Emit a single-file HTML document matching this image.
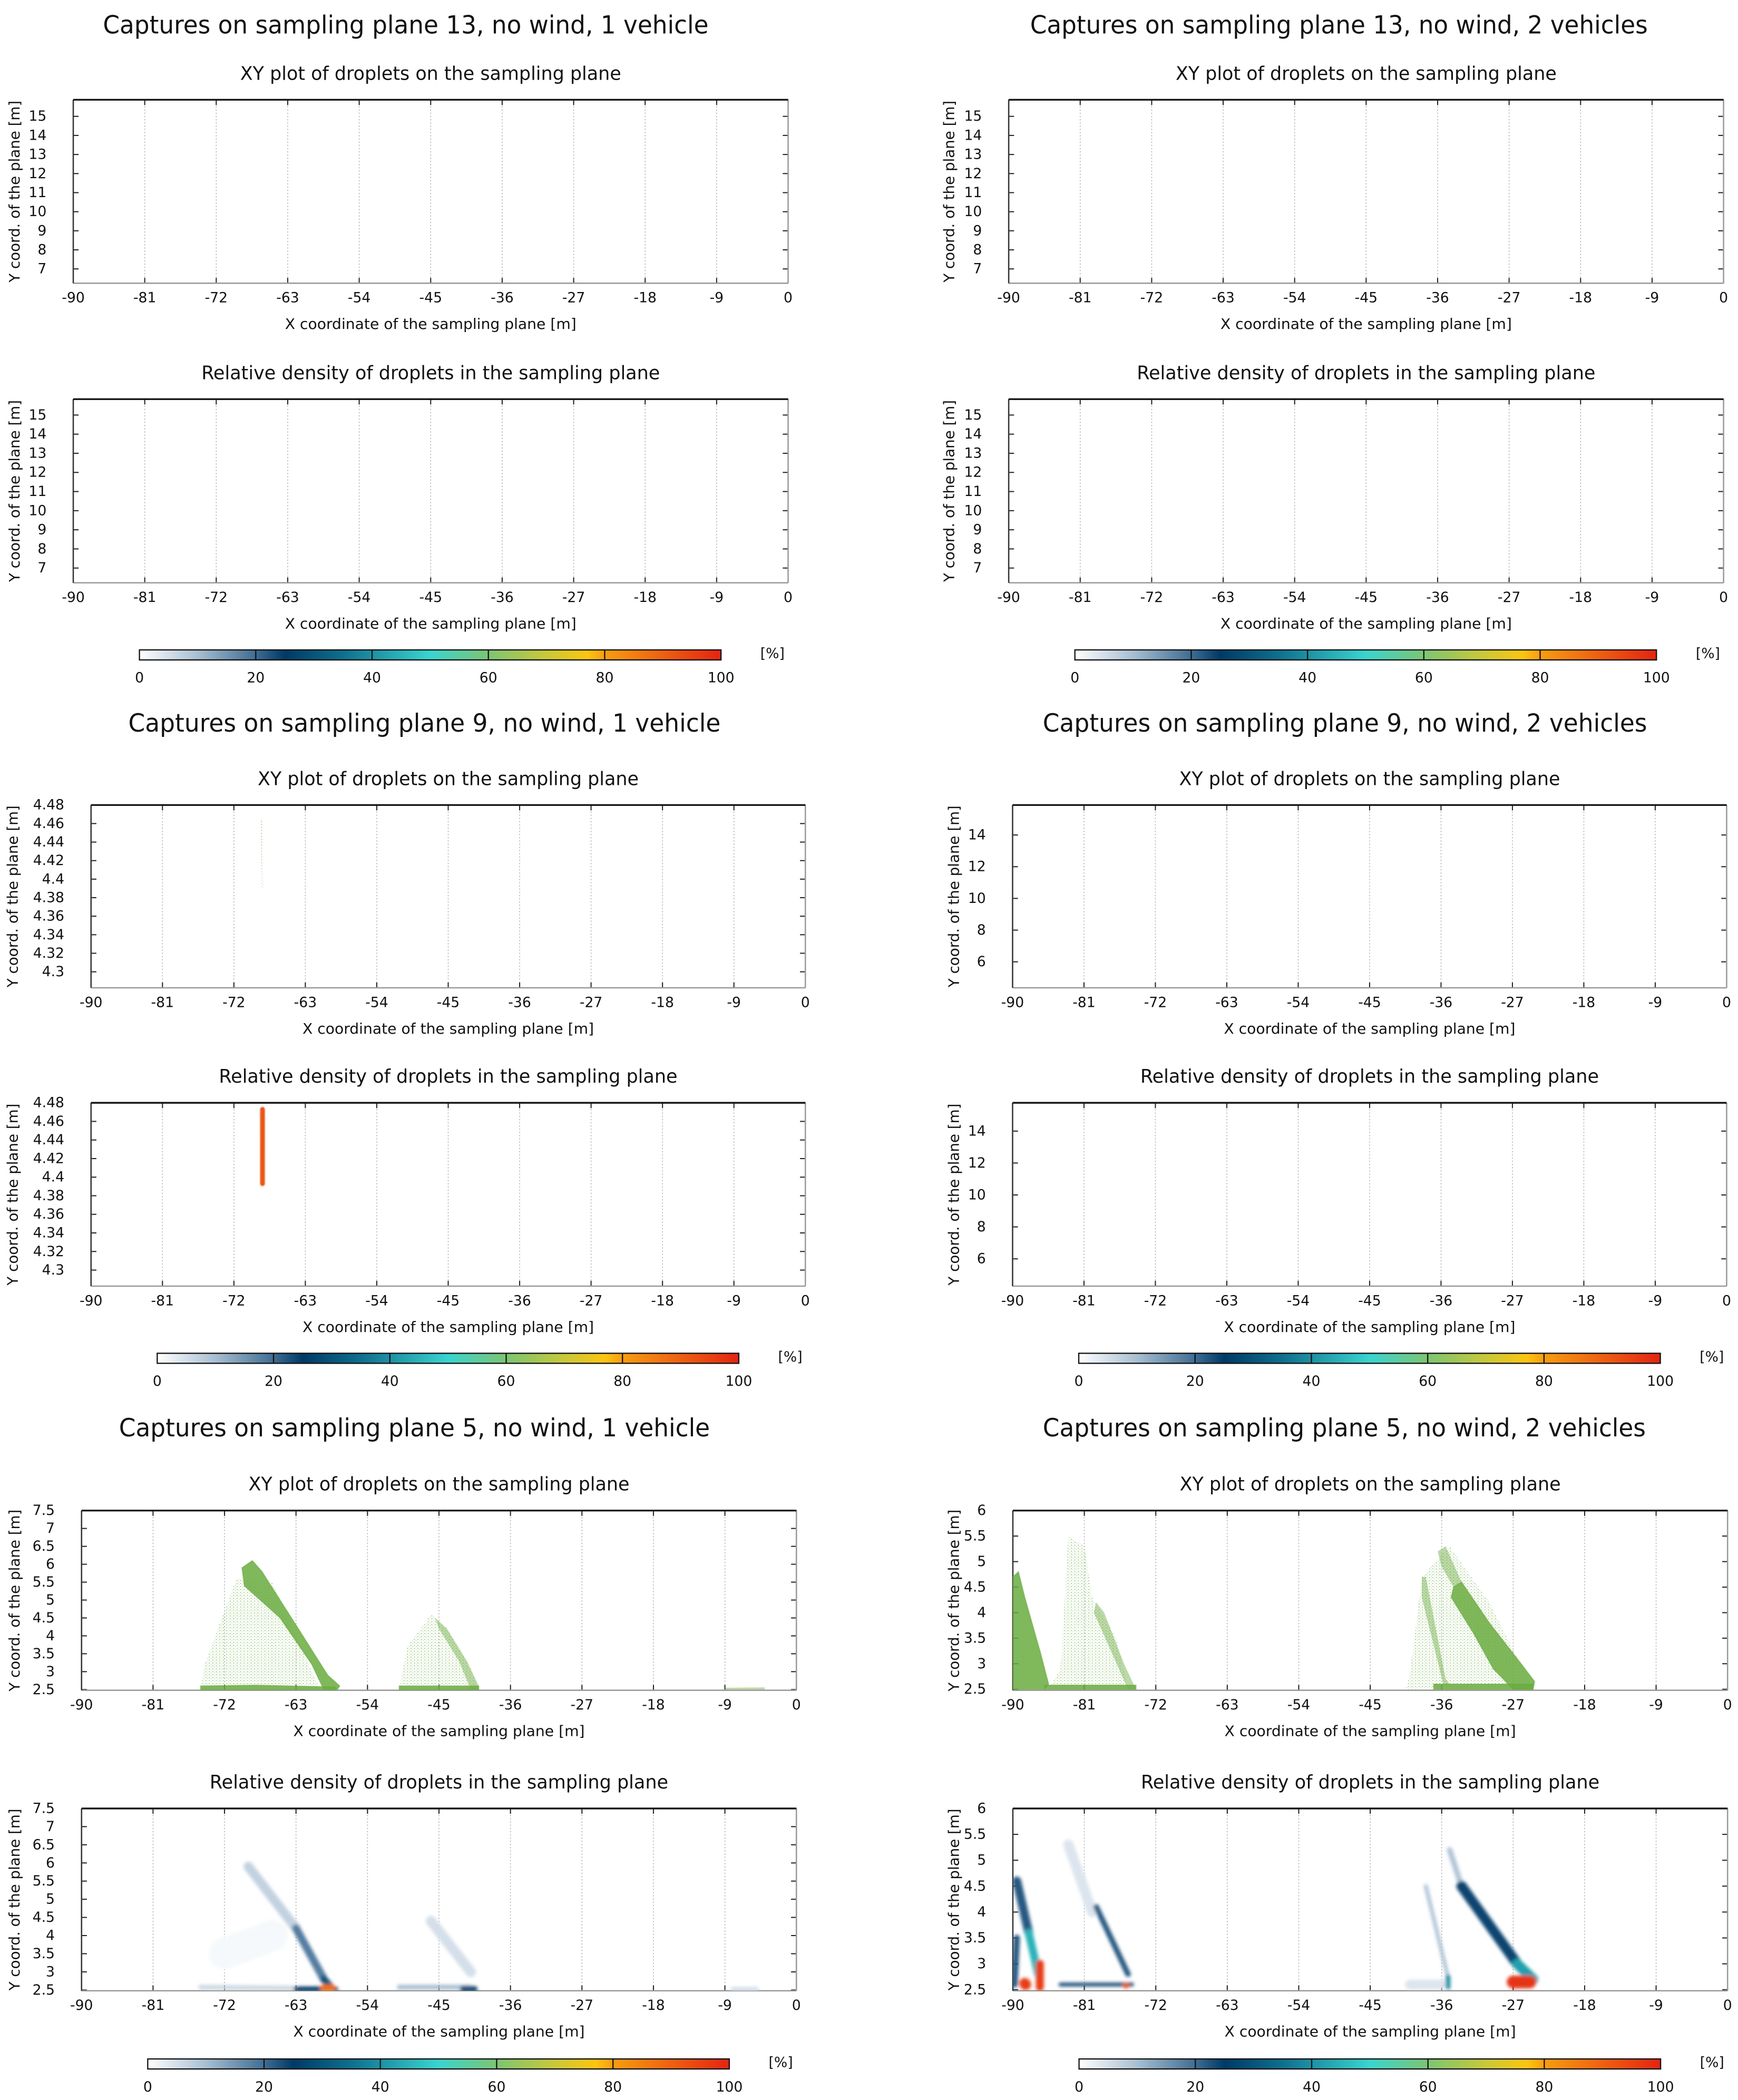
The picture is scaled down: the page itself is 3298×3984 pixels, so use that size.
<!DOCTYPE html>
<html><head><meta charset="utf-8"><title>Captures on sampling planes</title>
<style>
html,body{margin:0;padding:0;background:#fff;}
svg{display:block;}
text{font-family:"DejaVu Sans","Liberation Sans",sans-serif;fill:#111;}
</style></head>
<body>
<svg id="chart" xmlns="http://www.w3.org/2000/svg" width="3298" height="3984" viewBox="0 0 1300 1570.4">
<defs>
<pattern id="sparseDots" width="2.6" height="2.2" patternUnits="userSpaceOnUse">
<circle cx="0.6" cy="0.6" r="0.45" fill="#6aab3f"/>
<circle cx="1.9" cy="1.5" r="0.35" fill="#6aab3f" opacity="0.7"/>
</pattern>
<filter id="soft" filterUnits="userSpaceOnUse" x="0" y="0" width="1300" height="1571"><feGaussianBlur stdDeviation="1.3"/></filter>
<filter id="softSmall" filterUnits="userSpaceOnUse" x="0" y="0" width="1300" height="1571"><feGaussianBlur stdDeviation="0.4"/></filter>
<linearGradient id="cmapGrad" x1="0" y1="0" x2="1" y2="0">
<stop offset="0" stop-color="#ffffff"/><stop offset="0.1" stop-color="#a8bfd2"/>
<stop offset="0.2" stop-color="#3f6d93"/><stop offset="0.25" stop-color="#003a66"/>
<stop offset="0.35" stop-color="#0f6f8d"/><stop offset="0.5" stop-color="#3ad4cf"/>
<stop offset="0.6" stop-color="#7cc573"/><stop offset="0.7" stop-color="#c8c83a"/>
<stop offset="0.77" stop-color="#fbc512"/><stop offset="0.8" stop-color="#f79d12"/>
<stop offset="1" stop-color="#e32412"/>
</linearGradient>
</defs>
</svg>
<script>
// ---------- data ----------
const xTicks = [-90,-81,-72,-63,-54,-45,-36,-27,-18,-9,0];
const cbTicks = [0,20,40,60,80,100];
const yTicksP13 = [7,8,9,10,11,12,13,14,15];
const yTicksP9v1 = [4.3,4.32,4.34,4.36,4.38,4.4,4.42,4.44,4.46,4.48];
const yTicksP9v1Labels = ["4.3","4.32","4.34","4.36","4.38","4.4","4.42","4.44","4.46","4.48"];
const yTicksP9v2 = [6,8,10,12,14];
const yTicksP5v1 = [2.5,3,3.5,4,4.5,5,5.5,6,6.5,7,7.5];
const yTicksP5v2 = [2.5,3,3.5,4,4.5,5,5.5,6];

const p9v1LineX = [-68.6,-68.4,-68.3,-68.5];
const p9v1LineY = [4.465,4.465,4.39,4.39];
const p5v1BandAX = [-69.8,-68.5,-67.3,-63,-59,-57.5,-57.8,-59.5,-61,-65,-69.5];
const p5v1BandAY = [5.9,6.1,5.8,4.3,2.9,2.6,2.5,2.5,3.2,4.5,5.4];
const p5v1SparseAX = [-75,-74.5,-70.5,-66,-60,-75];
const p5v1SparseAY = [2.5,3.2,5.6,5.5,2.5,2.5];
const p5v1BaseAX = [-75,-75,-68,-58,-58];
const p5v1BaseAY = [2.5,2.6,2.62,2.57,2.5];
const p5v1SparseBX = [-50,-49,-46,-44,-41,-40];
const p5v1SparseBY = [2.5,3.7,4.6,4.2,3.1,2.5];
const p5v1DenseBX = [-45.5,-44,-41.5,-40,-40,-41,-42.5,-45];
const p5v1DenseBY = [4.5,4.2,3.3,2.6,2.5,2.5,3.3,4.2];
const p5v1BaseBX = [-50,-50,-40,-40];
const p5v1BaseBY = [2.5,2.6,2.6,2.5];
const p5v1TailX = [-9,-9,-4,-4];
const p5v1TailY = [2.5,2.55,2.56,2.5];
const p5v2DenseCX = [-90,-90,-89.3,-88.5,-86.5,-85.5,-86];
const p5v2DenseCY = [2.5,4.7,4.8,4.3,3.2,2.6,2.5];
const p5v2SparseCX = [-85.5,-84,-83,-81,-80,-77,-75.5];
const p5v2SparseCY = [2.5,2.9,5.5,5.3,4.3,3.5,2.5];
const p5v2BandCX = [-79.5,-78.5,-76,-74.5,-75.5,-77.5,-79.8];
const p5v2BandCY = [4.2,4.0,3.0,2.5,2.5,3.2,4.0];
const p5v2BaseCX = [-86,-86,-74.5,-74.5];
const p5v2BaseCY = [2.5,2.58,2.58,2.5];
const p5v2BandDX = [-34.5,-33.5,-30,-26,-24.3,-24.5,-27,-29.5,-32,-34.8];
const p5v2BandDY = [4.5,4.6,3.8,3.0,2.65,2.5,2.5,2.9,3.6,4.3];
const p5v2TopDX = [-36.5,-35.5,-33.5,-34.5,-36];
const p5v2TopDY = [5.2,5.3,4.6,4.5,4.9];
const p5v2LineDX = [-38.5,-38,-35.5,-35,-35.8,-38.5];
const p5v2LineDY = [4.7,4.7,2.7,2.6,2.6,4.3];
const p5v2SparseDX = [-40.5,-40,-38.5,-35,-30,-24.5];
const p5v2SparseDY = [2.5,2.8,4.7,5.3,4.2,2.5];
const p5v2BaseDX = [-37,-37,-24.5,-24.5];
const p5v2BaseDY = [2.5,2.6,2.6,2.5];

const hm9v1X1 = [-68.4]; const hm9v1Y1 = [4.393];
const hm9v1X2 = [-68.4]; const hm9v1Y2 = [4.473];
const hm9v1Val = [92];   const hm9v1W = [0.6];

const hm5v1X1 = [-72,-75,-69,-63,-46,-50,-8,-63,-59.5,-42,-59.5];
const hm5v1Y1 = [3.5,2.58,5.9,4.2,4.4,2.58,2.52,2.53,2.8,2.53,2.55];
const hm5v1X2 = [-66,-63,-63,-59.5,-41,-41,-5,-58,-58.5,-40.5,-58.5];
const hm5v1Y2 = [4.0,2.55,4.2,2.8,3.0,2.58,2.52,2.53,2.55,2.53,2.56];
const hm5v1Val = [1,6,7,18,5,10,5,25,30,24,88];
const hm5v1W = [4,0.6,1.2,1.0,1.3,0.6,0.6,0.6,0.9,0.7,0.9];

const hm5v2X1 = [-83,-40,-38,-35,-89.5,-89.5,-84,-79.5,-33.5,-88,-26.5,-35.2,-88.5,-86.6,-75.8,-27];
const hm5v2Y1 = [5.3,2.6,4.5,5.2,4.6,3.5,2.6,4.1,4.5,3.6,3.0,2.75,2.62,3.0,2.58,2.65];
const hm5v2X2 = [-80,-36,-35.3,-33.5,-88,-89.8,-75,-75.5,-26.5,-86.8,-24.5,-35.2,-88.4,-86.6,-75.7,-24.9];
const hm5v2Y2 = [4.0,2.6,2.8,4.5,3.6,2.6,2.6,2.8,3.0,2.8,2.7,2.55,2.6,2.55,2.58,2.65];
const hm5v2Val = [4,4,9,9,22,22,22,22,24,45,42,40,96,96,92,97];
const hm5v2W = [1.3,1.2,0.5,0.7,1.1,0.8,0.5,0.7,1.3,1.0,1.3,0.6,1.4,1.0,0.7,1.6];

// ---------- helpers ----------
const NS = "http://www.w3.org/2000/svg";
const svg = document.getElementById('chart');
function mk(tag, attrs, parent){
  const e = document.createElementNS(NS, tag);
  for (const k in attrs) e.setAttribute(k, attrs[k]);
  (parent||svg).appendChild(e);
  return e;
}
const cmStops = [[0,[255,255,255]],[10,[168,191,210]],[20,[63,109,147]],[25,[0,58,102]],[35,[15,111,141]],[50,[58,212,207]],[60,[124,197,115]],[70,[200,200,58]],[77,[251,197,18]],[80,[247,157,18]],[100,[227,36,18]]];
function cmap(v){
  v = Math.max(0, Math.min(100, v));
  for (let i=1;i<cmStops.length;i++){
    if (v <= cmStops[i][0]){
      const a=cmStops[i-1], b=cmStops[i], t=(v-a[0])/(b[0]-a[0]);
      const c=a[1].map((q,j)=>Math.round(q+(b[1][j]-q)*t));
      return 'rgb('+c.join(',')+')';
    }
  }
  return 'rgb(227,36,18)';
}
function sx(p,x){ return p.x0 + (x+90)/90*(p.x1-p.x0); }
function sy(p,y){ return p.y1 - (y-p.ymin)/(p.ymax-p.ymin)*(p.y1-p.y0); }

const rows = [
 {ty:19,  L:{cx:303.5,tw:453,title:"Captures on sampling plane 13, no wind, 1 vehicle"}, R:{cx:1001.5,tw:462,title:"Captures on sampling plane 13, no wind, 2 vehicles"},
  y0a:74.6,y1a:211.8,y0b:298.5,y1b:435.8,cby:486, xL:[54.8,589.5], xR:[754.5,1289.2]},
 {ty:541, L:{cx:317.5,tw:443,title:"Captures on sampling plane 9, no wind, 1 vehicle"}, R:{cx:1006,tw:452,title:"Captures on sampling plane 9, no wind, 2 vehicles"},
  y0a:602,y1a:738.7,y0b:824.7,y1b:961.8,cby:1012, xL:[68.1,602.4], xR:[757.4,1291.5]},
 {ty:1068,L:{cx:310,tw:442,title:"Captures on sampling plane 5, no wind, 1 vehicle"}, R:{cx:1005.5,tw:451,title:"Captures on sampling plane 5, no wind, 2 vehicles"},
  y0a:1129.6,y1a:1264,y0b:1352.4,y1b:1488.7,cby:1539.7, xL:[61,595.7], xR:[757.6,1292.2]}
];
const panelDefs = [
 {r:0,s:'L',key:'p13v1', ya:[6.25,15.87], yb:[6.23,15.83], yt:yTicksP13, yl:null},
 {r:0,s:'R',key:'p13v2', ya:[6.25,15.87], yb:[6.23,15.83], yt:yTicksP13, yl:null},
 {r:1,s:'L',key:'p9v1',  ya:[4.2827,4.48], yb:[4.2827,4.48], yt:yTicksP9v1, yl:yTicksP9v1Labels},
 {r:1,s:'R',key:'p9v2',  ya:[4.36,15.89], yb:[4.29,15.77], yt:yTicksP9v2, yl:null},
 {r:2,s:'L',key:'p5v1',  ya:[2.48,7.5], yb:[2.48,7.5], yt:yTicksP5v1, yl:null},
 {r:2,s:'R',key:'p5v2',  ya:[2.48,6], yb:[2.48,6], yt:yTicksP5v2, yl:null}
];

let clipId = 0;
function drawAxes(p, sub, subW, yt, yl, name){
  const g = mk('g', {});
  
  
  const cx = (p.x0+p.x1)/2;
  const st = mk('text', {x:cx, y:p.y0-19.5, 'text-anchor':'middle', 'dominant-baseline':'central', 'font-size':14, textLength:subW, lengthAdjust:'spacingAndGlyphs'}, g);
  st.textContent = sub;
  
  
  xTicks.forEach((t,i)=>{
    const x = sx(p,t);
    if (i>0 && i<xTicks.length-1){
      const gl = mk('line', {x1:x,y1:p.y0,x2:x,y2:p.y1,stroke:'#b4b4b4','stroke-width':0.6,'stroke-dasharray':'1,1.4'}, g);
      
      
    }
    mk('line', {x1:x,y1:p.y1,x2:x,y2:p.y1-4,stroke:'#222','stroke-width':0.8}, g);
    mk('line', {x1:x,y1:p.y0,x2:x,y2:p.y0+4,stroke:'#222','stroke-width':0.8}, g);
    const lb = mk('text', {x:x, y:p.y1+11, 'text-anchor':'middle','dominant-baseline':'central','font-size':10.5}, g);
    lb.textContent = String(t);
    
    
  });
  yt.forEach((t,i)=>{
    const y = sy(p,t);
    mk('line', {x1:p.x0,y1:y,x2:p.x0+4,y2:y,stroke:'#222','stroke-width':0.8}, g);
    mk('line', {x1:p.x1,y1:y,x2:p.x1-4,y2:y,stroke:'#222','stroke-width':0.8}, g);
    const lb = mk('text', {x:p.x0-20, y:y, 'text-anchor':'end','dominant-baseline':'central','font-size':10.5}, g);
    lb.textContent = yl ? yl[i] : String(t);
    
    
  });
  mk('line', {x1:p.x0,y1:p.y1,x2:p.x1,y2:p.y1,stroke:'#9a9a9a','stroke-width':1}, g);
  mk('line', {x1:p.x1,y1:p.y0,x2:p.x1,y2:p.y1,stroke:'#9a9a9a','stroke-width':1}, g);
  mk('line', {x1:p.x0,y1:p.y0,x2:p.x0,y2:p.y1,stroke:'#333','stroke-width':1}, g);
  mk('line', {x1:p.x0,y1:p.y0,x2:p.x1,y2:p.y0,stroke:'#111','stroke-width':1.3}, g);
  const xt = mk('text', {x:cx, y:p.y1+30.5, 'text-anchor':'middle','dominant-baseline':'central','font-size':11, textLength:218, lengthAdjust:'spacingAndGlyphs'}, g);
  xt.textContent = 'X coordinate of the sampling plane [m]';
  
  
  const yx = p.yTitleX, yc = (p.y0+p.y1)/2;
  const ytt = mk('text', {x:yx, y:yc, 'text-anchor':'middle','dominant-baseline':'central','font-size':11, transform:'rotate(-90 '+yx+' '+yc+')', textLength:136, lengthAdjust:'spacingAndGlyphs'}, g);
  ytt.textContent = 'Y coord. of the plane [m]';
  
  
  clipId++;
  const cp = mk('clipPath', {id:'clip'+clipId});
  mk('rect', {x:p.x0,y:p.y0,width:p.x1-p.x0,height:p.y1-p.y0}, cp);
  const plot = mk('g', {'clip-path':'url(#clip'+clipId+')'}, g);
  return plot;
}

function drawCloud(p, parent, xsArr, ysArr, kind, name){
  const pts = xsArr.map((x,i)=> sx(p,x).toFixed(2)+','+sy(p,ysArr[i]).toFixed(2)).join(' ');
  let attrs;
  if (kind==='dense') attrs = {points:pts, fill:'#6aab3f', 'fill-opacity':0.85, stroke:'#6aab3f','stroke-width':0.8,'stroke-opacity':0.6};
  else if (kind==='mid') attrs = {points:pts, fill:'#6aab3f', 'fill-opacity':0.45, stroke:'none'};
  else attrs = {points:pts, fill:'url(#sparseDots)', 'fill-opacity':0.6, stroke:'none'};
  const e = mk('polygon', attrs, parent);
  
  
}

function drawHeat(p, parent, X1,Y1,X2,Y2,V,W, name, filt){
  const g = mk('g', {filter:'url(#'+(filt||'soft')+')'}, parent);
  
  
  const pxPerM = (p.x1-p.x0)/90;
  const idx = V.map((v,i)=>i).sort((a,b)=>V[a]-V[b]);
  idx.forEach(i=>{
    const s = mk('line', {x1:sx(p,X1[i]),y1:sy(p,Y1[i]),x2:sx(p,X2[i])+0.01,y2:sy(p,Y2[i]),stroke:cmap(V[i]),'stroke-width':Math.max(2,W[i]*pxPerM),'stroke-linecap':'round'}, g);
    
    
  });
}

function drawColorbar(x0, y, name){
  const g = mk('g', {});
  
  
  const w = 435, h = 7.5;
  const r = mk('rect', {x:x0,y:y,width:w,height:h,fill:'url(#cmapGrad)',stroke:'#111','stroke-width':0.9}, g);
  
  
  cbTicks.forEach(t=>{
    const x = x0 + t/100*w;
    if (t>0 && t<100) mk('line', {x1:x,y1:y,x2:x,y2:y+h,stroke:'#111','stroke-width':0.9}, g);
    const lb = mk('text', {x:x, y:y+h+13.5, 'text-anchor':'middle','dominant-baseline':'central','font-size':10.5}, g);
    lb.textContent = String(t);
    
    
  });
  const u = mk('text', {x:x0+w+38.5, y:y+h/2-1, 'text-anchor':'middle','dominant-baseline':'central','font-size':10.5}, g);
  u.textContent = '[%]';
  
  
}

rows.forEach((row, ri)=>{
  ['L','R'].forEach(side=>{
    const info = row[side];
    const t = mk('text', {x:info.cx, y:row.ty, 'text-anchor':'middle','dominant-baseline':'central','font-size':18.5, textLength:info.tw, lengthAdjust:'spacingAndGlyphs'});
    t.textContent = info.title;
    
    
  });
});

panelDefs.forEach(d=>{
  const row = rows[d.r];
  const xr = row['x'+d.s];
  const yTitleX = d.s==='L' ? (d.r===1 ? 9.5 : 10.8) : (d.r===0 ? 710 : 713.5);
  const pa = {x0:xr[0],x1:xr[1],y0:row.y0a,y1:row.y1a,ymin:d.ya[0],ymax:d.ya[1],yTitleX:yTitleX};
  const pb = {x0:xr[0],x1:xr[1],y0:row.y0b,y1:row.y1b,ymin:d.yb[0],ymax:d.yb[1],yTitleX:yTitleX};
  const plotA = drawAxes(pa, 'XY plot of droplets on the sampling plane', 285, d.yt, d.yl, d.key+'-xy-plot');
  const plotB = drawAxes(pb, 'Relative density of droplets in the sampling plane', 343, d.yt, d.yl, d.key+'-density-plot');
  drawColorbar(xr[0]+49.5, row.cby, d.key+'-colorbar');
  if (d.key==='p9v1'){
    drawCloud(pa, plotA, p9v1LineX, p9v1LineY, 'sparse', 'droplet-cloud');
    drawHeat(pb, plotB, hm9v1X1,hm9v1Y1,hm9v1X2,hm9v1Y2,hm9v1Val,hm9v1W, 'density-map', 'softSmall');
  }
  if (d.key==='p5v1'){
    drawCloud(pa, plotA, p5v1SparseAX, p5v1SparseAY, 'sparse', 'droplet-cloud-a-sparse');
    drawCloud(pa, plotA, p5v1SparseBX, p5v1SparseBY, 'sparse', 'droplet-cloud-b-sparse');
    drawCloud(pa, plotA, p5v1BandAX, p5v1BandAY, 'dense', 'droplet-cloud-a');
    drawCloud(pa, plotA, p5v1BaseAX, p5v1BaseAY, 'dense', 'droplet-base-a');
    drawCloud(pa, plotA, p5v1DenseBX, p5v1DenseBY, 'mid', 'droplet-cloud-b');
    drawCloud(pa, plotA, p5v1BaseBX, p5v1BaseBY, 'dense', 'droplet-base-b');
    drawCloud(pa, plotA, p5v1TailX, p5v1TailY, 'mid', 'droplet-tail');
    drawHeat(pb, plotB, hm5v1X1,hm5v1Y1,hm5v1X2,hm5v1Y2,hm5v1Val,hm5v1W, 'density-map');
  }
  if (d.key==='p5v2'){
    drawCloud(pa, plotA, p5v2SparseCX, p5v2SparseCY, 'sparse', 'droplet-cloud-c-sparse');
    drawCloud(pa, plotA, p5v2SparseDX, p5v2SparseDY, 'sparse', 'droplet-cloud-d-sparse');
    drawCloud(pa, plotA, p5v2DenseCX, p5v2DenseCY, 'dense', 'droplet-cloud-c');
    drawCloud(pa, plotA, p5v2BandCX, p5v2BandCY, 'mid', 'droplet-band-c');
    drawCloud(pa, plotA, p5v2BaseCX, p5v2BaseCY, 'dense', 'droplet-base-c');
    drawCloud(pa, plotA, p5v2BandDX, p5v2BandDY, 'dense', 'droplet-cloud-d');
    drawCloud(pa, plotA, p5v2TopDX, p5v2TopDY, 'mid', 'droplet-top-d');
    drawCloud(pa, plotA, p5v2LineDX, p5v2LineDY, 'mid', 'droplet-line-d');
    drawCloud(pa, plotA, p5v2BaseDX, p5v2BaseDY, 'dense', 'droplet-base-d');
    drawHeat(pb, plotB, hm5v2X1,hm5v2Y1,hm5v2X2,hm5v2Y2,hm5v2Val,hm5v2W, 'density-map');
  }
});
</script>
</body></html>
